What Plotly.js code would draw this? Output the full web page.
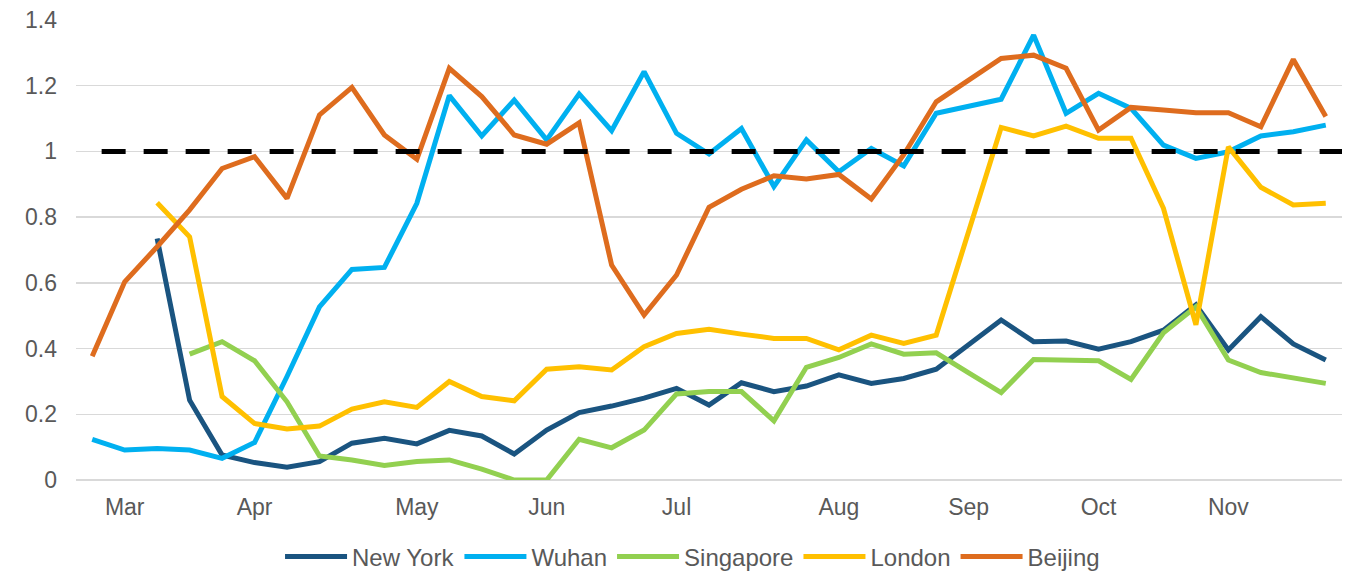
<!DOCTYPE html>
<html>
<head>
<meta charset="utf-8">
<script src="https://cdn.plot.ly/plotly-3.0.1.min.js"></script>
<style>html,body{margin:0;padding:0;background:#fff;}#chart{width:1351px;height:571px;}</style>
</head>
<body>
<div id="chart"></div>
<script>
// Weekly observations (index = week number from the first week shown)
const weeks = Array.from({length: 39}, (_, i) => i);
const monthTickWeeks = [1, 5, 10, 14, 18, 23, 27, 31, 35];
const monthTickLabels = ['Mar', 'Apr', 'May', 'Jun', 'Jul', 'Aug', 'Sep', 'Oct', 'Nov'];

const newYork = [null, null, 0.735, 0.243, 0.076, 0.053, 0.039, 0.056, 0.112, 0.127,
  0.110, 0.151, 0.134, 0.079, 0.152, 0.205, 0.225, 0.249, 0.279, 0.228,
  0.296, 0.269, 0.286, 0.320, 0.294, 0.309, 0.337, 0.410, 0.487, 0.421,
  0.423, 0.398, 0.421, 0.456, 0.533, 0.396, 0.497, 0.414, 0.365];
const wuhan = [0.124, 0.091, 0.096, 0.091, 0.066, 0.114, 0.315, 0.527, 0.641, 0.647,
  0.842, 1.170, 1.047, 1.156, 1.035, 1.175, 1.063, 1.243, 1.055, 0.992,
  1.070, 0.893, 1.035, 0.938, 1.009, 0.956, 1.116, 1.137, 1.159, 1.354,
  1.116, 1.177, 1.131, 1.019, 0.979, 0.999, 1.047, 1.060, 1.080];
const singapore = [null, null, null, 0.383, 0.421, 0.363, 0.238, 0.073, 0.061, 0.044,
  0.056, 0.061, 0.033, 0, 0, 0.124, 0.098, 0.152, 0.262, 0.269,
  0.269, 0.180, 0.343, 0.373, 0.414, 0.383, 0.387, 0.326, 0.266, 0.367,
  0.365, 0.363, 0.306, 0.448, 0.527, 0.365, 0.327, 0.309, 0.294];
const london = [null, null, 0.844, 0.740, 0.254, 0.172, 0.155, 0.164, 0.216, 0.238,
  0.221, 0.300, 0.254, 0.241, 0.337, 0.345, 0.335, 0.406, 0.446, 0.459,
  0.444, 0.431, 0.431, 0.396, 0.441, 0.416, 0.441, 0.757, 1.073, 1.047,
  1.077, 1.040, 1.040, 0.827, 0.472, 1.014, 0.891, 0.837, 0.842];
const beijing = [0.377, 0.603, 0.710, 0.822, 0.948, 0.984, 0.857, 1.111, 1.195, 1.050,
  0.976, 1.253, 1.167, 1.050, 1.022, 1.087, 0.654, 0.502, 0.624, 0.830,
  0.885, 0.926, 0.916, 0.930, 0.855, 0.990, 1.151, 1.217, 1.283, 1.293,
  1.253, 1.065, 1.134, 1.126, 1.118, 1.118, 1.075, 1.280, 1.106];
const referenceLevel = 1;

const seriesNames = ['New York', 'Wuhan', 'Singapore', 'London', 'Beijing'];
const seriesValues = [newYork, wuhan, singapore, london, beijing];
const seriesColors = ['#1A5480', '#00B0F0', '#92D050', '#FFC000', '#DE6C1E'];

const traces = seriesNames.map((name, k) => ({
  type: 'scatter',
  mode: 'lines',
  name: name,
  x: weeks,
  y: seriesValues[k],
  line: {color: seriesColors[k], width: 5},
  connectgaps: false,
  hoverinfo: 'x+y+name'
}));

const font = {family: '"Liberation Sans", Arial, sans-serif', size: 23, color: '#595959'};
const legendFont = {family: '"Liberation Sans", Arial, sans-serif', size: 24, color: '#595959'};

const layout = {
  width: 1351,
  height: 571,
  margin: {l: 76, r: 9, t: 20, b: 91, autoexpand: false},
  paper_bgcolor: '#ffffff',
  plot_bgcolor: '#ffffff',
  font: font,
  showlegend: true,
  xaxis: {
    range: [-0.5, 38.5],
    tickmode: 'array',
    tickvals: monthTickWeeks,
    ticktext: monthTickLabels,
    showgrid: false,
    zeroline: false,
    showline: false,
    ticks: '',
    ticklabelstandoff: 11,
    tickfont: font,
    fixedrange: true
  },
  yaxis: {
    range: [0, 1.4],
    dtick: 0.2,
    tick0: 0,
    showgrid: true,
    gridcolor: '#D9D9D9',
    gridwidth: 1.3,
    zeroline: true,
    zerolinecolor: '#D9D9D9',
    zerolinewidth: 1.3,
    showline: false,
    ticks: '',
    ticklabelstandoff: 18,
    tickfont: font,
    fixedrange: true
  },
  legend: {
    orientation: 'h',
    x: 0.487,
    xanchor: 'center',
    y: -0.167,
    yanchor: 'middle',
    font: legendFont,
    itemwidth: 62,
    bgcolor: 'rgba(0,0,0,0)'
  },
  shapes: [{
    type: 'line',
    xref: 'x',
    yref: 'y',
    x0: 0.29,
    x1: 38.5,
    y0: referenceLevel,
    y1: referenceLevel,
    line: {color: '#000000', width: 5, dash: '24px,18px'},
    layer: 'above'
  }]
};

Plotly.newPlot('chart', traces, layout, {displayModeBar: false, staticPlot: true});
</script>
</body>
</html>
